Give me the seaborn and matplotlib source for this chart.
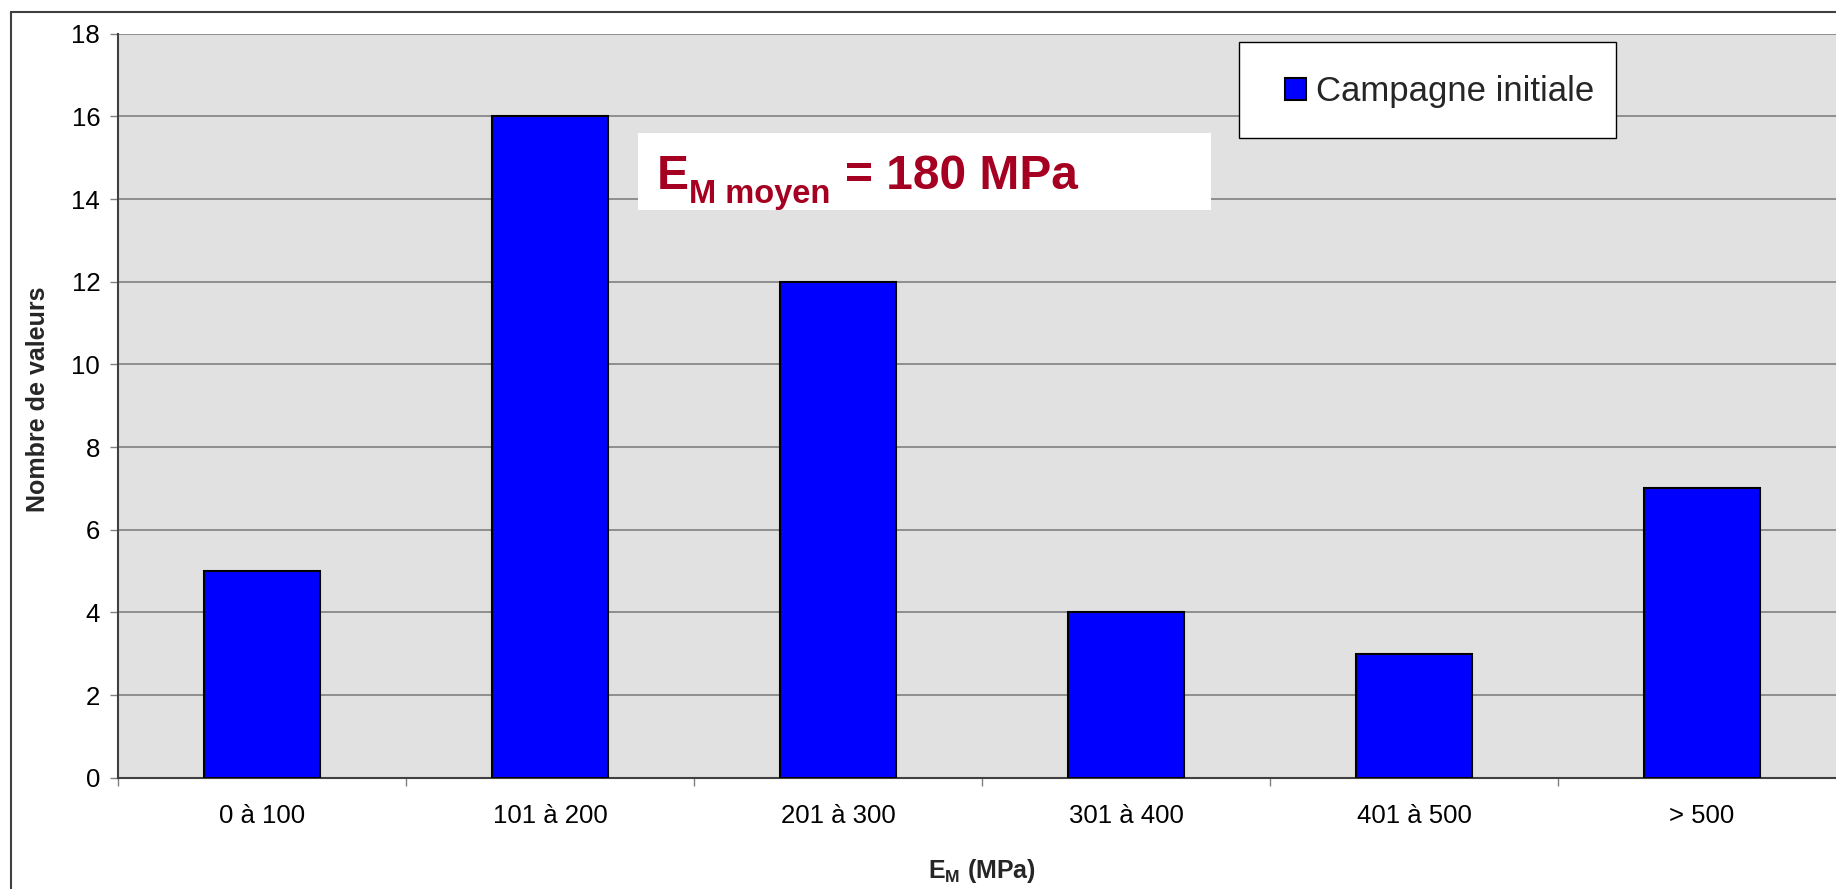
import matplotlib
matplotlib.use("Agg")
import matplotlib.pyplot as plt
import seaborn as sns
import pandas as pd
from matplotlib.patches import Rectangle
from matplotlib.lines import Line2D

# Distribution of pressuremeter modulus values per class
categories = ["0 à 100", "101 à 200", "201 à 300", "301 à 400", "401 à 500", "> 500"]
counts = [5, 16, 12, 4, 3, 7]
series_label = "Campagne initiale"
y_ticks = list(range(0, 19, 2))
mean_label_main = "E"
mean_label_sub = "M moyen"
mean_label_rest = "= 180 MPa"

sns.set_theme(style="white")
plt.rcParams["font.family"] = ["Liberation Sans", "DejaVu Sans"]
plt.rcParams["mathtext.fontset"] = "custom"
plt.rcParams["mathtext.rm"] = "Liberation Sans:bold"
plt.rcParams["mathtext.bf"] = "Liberation Sans:bold"
plt.rcParams["mathtext.it"] = "Liberation Sans:bold"

W, H = 1836, 889
fig = plt.figure(figsize=(W / 100, H / 100), dpi=100)
fig.patch.set_facecolor("white")

# plot area (runs slightly past the right edge of the image)
ax = fig.add_axes([118 / W, 1 - 777.7 / H, 1728 / W, 744 / H])
ax.set_facecolor("#E1E1E1")

df = pd.DataFrame({"classe": categories, "n": counts})
sns.barplot(data=df, x="classe", y="n", color="#0000FF", saturation=1,
            width=0.4, edgecolor="black", linewidth=1.5,
            label=series_label, ax=ax, zorder=3)

ax.set_xlim(-0.5, len(categories) - 0.5)
ax.set_ylim(0, 18)
ax.set_yticks(y_ticks)
ax.set_axisbelow(True)
ax.yaxis.grid(True, color="#808080", linewidth=1.2)
ax.xaxis.grid(False)

for side in ("top", "right"):
    ax.spines[side].set_visible(False)
for side in ("left", "bottom"):
    ax.spines[side].set_color("#404040")
    ax.spines[side].set_linewidth(1.5)

# boundaries between classes carry the tick marks
ax.set_xticks([i + 0.5 for i in range(-1, len(categories))], minor=True)
ax.tick_params(axis="x", which="major", bottom=True, length=0, pad=19,
               labelsize=18.5, labelcolor="black")
ax.tick_params(axis="x", which="minor", bottom=True, length=5.8, width=1,
               color="#808080", direction="out")
ax.tick_params(axis="y", left=True, length=5.8, width=1, color="#808080",
               direction="out", pad=7, labelsize=18.5, labelcolor="black")

ax.set_xlabel(r"$\mathbf{E_M}$ (MPa)", fontsize=18, fontweight="bold")
ax.xaxis.set_label_coords(0.5, -0.107)
ax.set_ylabel("Nombre de valeurs", fontsize=18, fontweight="bold")
ax.yaxis.set_label_coords(-0.0395, 0.509)

# legend with its own boxed frame
ax.add_patch(Rectangle((1239 / W, 1 - 138 / H), 377 / W, 96 / H,
                       transform=fig.transFigure, facecolor="white",
                       edgecolor="black", linewidth=1, zorder=5, clip_on=False))
handles, labels = ax.get_legend_handles_labels()
leg = ax.legend(handles[:1], labels[:1], loc="center",
                bbox_to_anchor=(1440 / W, 1 - 92 / H),
                bbox_transform=fig.transFigure, frameon=False, fontsize=25,
                handlelength=0.6, handleheight=0.6, handletextpad=0.3,
                borderpad=0, borderaxespad=0)
leg.set_zorder(6)

# mean value annotation
ax.add_patch(Rectangle((638 / W, 1 - 210 / H), 573 / W, 77 / H,
                       transform=fig.transFigure, facecolor="white",
                       edgecolor="none", zorder=5, clip_on=False))
red = "#A50021"
fig.text(657 / W, 1 - 189 / H, mean_label_main, fontsize=34.5, fontweight="bold",
         color=red, va="baseline", ha="left")
fig.text(689 / W, 1 - 203 / H, mean_label_sub, fontsize=23.5, fontweight="bold",
         color=red, va="baseline", ha="left")
fig.text(845 / W, 1 - 189 / H, mean_label_rest, fontsize=34.5, fontweight="bold",
         color=red, va="baseline", ha="left")

# outer chart frame
fig.add_artist(Line2D([11 / W, 11 / W], [0, 1 - 12 / H], transform=fig.transFigure,
                      color="#404040", linewidth=1.5))
fig.add_artist(Line2D([11 / W, 1], [1 - 12 / H, 1 - 12 / H], transform=fig.transFigure,
                      color="#404040", linewidth=1.5))

fig.savefig("out.png", dpi=100)
